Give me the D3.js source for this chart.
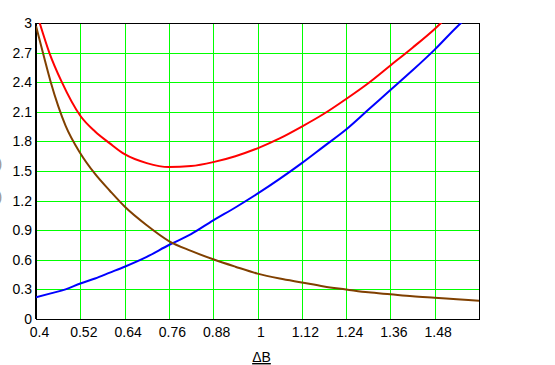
<!DOCTYPE html>
<html>
<head>
<meta charset="utf-8">
<script src="https://cdn.jsdelivr.net/npm/d3@7"></script>
<style>
  body { margin: 0; background: #fff; }
  svg { display: block; }
</style>
</head>
<body>
<div id="chart"></div>
<script>
// values
const xTicks = [0.4, 0.52, 0.64, 0.76, 0.88, 1, 1.12, 1.24, 1.36, 1.48]
const yTicks = [0, 0.3, 0.6, 0.9, 1.2, 1.5, 1.8, 2.1, 2.4, 2.7, 3]

const redB = [0.41, 0.436, 0.47, 0.52, 0.56, 0.6, 0.64, 0.7, 0.76, 0.82, 0.88, 0.94, 1, 1.06, 1.12, 1.18, 1.24, 1.3, 1.36, 1.42, 1.48, 1.5]
const redV = [3.0, 2.7, 2.4, 2.06, 1.9, 1.78, 1.67, 1.58, 1.54, 1.55, 1.59, 1.65, 1.73, 1.83, 1.95, 2.08, 2.23, 2.39, 2.57, 2.75, 2.94, 3.01]

const blueB = [0.4, 0.44, 0.48, 0.52, 0.56, 0.6, 0.64, 0.7, 0.76, 0.82, 0.88, 0.94, 1, 1.06, 1.12, 1.18, 1.24, 1.3, 1.36, 1.42, 1.48, 1.54, 1.56]
const blueV = [0.22, 0.26, 0.3, 0.36, 0.41, 0.47, 0.53, 0.63, 0.75, 0.86, 1.0, 1.13, 1.27, 1.42, 1.58, 1.75, 1.92, 2.12, 2.32, 2.52, 2.73, 2.96, 3.03]

const brownB = [0.4, 0.42, 0.44, 0.46, 0.48, 0.52, 0.56, 0.6, 0.64, 0.7, 0.76, 0.82, 0.88, 0.94, 1, 1.06, 1.12, 1.18, 1.24, 1.3, 1.36, 1.42, 1.48, 1.54, 1.6]
const brownV = [2.97, 2.68, 2.4, 2.16, 1.96, 1.68, 1.47, 1.3, 1.14, 0.95, 0.79, 0.69, 0.605, 0.53, 0.46, 0.41, 0.37, 0.33, 0.3, 0.27, 0.25, 0.23, 0.215, 0.2, 0.185]

const width = 555
const height = 365
const margin = { top: 23, right: 76, bottom: 46, left: 36 }
const innerW = width - margin.left - margin.right
const innerH = height - margin.top - margin.bottom

const svg = d3.select('#chart')
  .append('svg')
  .attr('width', width)
  .attr('height', height)
  .style('font-family', 'Arial, "Liberation Sans", sans-serif')

const g = svg.append('g')
  .attr('transform', `translate(${margin.left}, ${margin.top})`)

const x = d3.scaleLinear().domain([0.4, 1.6]).range([0, innerW])
const y = d3.scaleLinear().domain([0, 3]).range([innerH, 0])

g.append('clipPath')
  .attr('id', 'plot-clip')
  .append('rect')
  .attr('width', innerW)
  .attr('height', innerH)

// green grid
g.append('g')
  .attr('transform', `translate(0, ${innerH})`)
  .call(d3.axisBottom(x).tickValues(xTicks).tickSize(-innerH).tickFormat(''))
  .call(ax => ax.select('.domain').remove())
  .selectAll('line')
  .attr('stroke', '#00ff00')
  .attr('shape-rendering', 'crispEdges')

g.append('g')
  .call(d3.axisLeft(y).tickValues(yTicks).tickSize(-innerW).tickFormat(''))
  .call(ax => ax.select('.domain').remove())
  .selectAll('line')
  .attr('stroke', '#00ff00')
  .attr('shape-rendering', 'crispEdges')

// tick labels
g.append('g')
  .attr('transform', `translate(0, ${innerH})`)
  .call(d3.axisBottom(x).tickValues(xTicks).tickSize(0).tickPadding(8).tickFormat(d3.format('~g')))
  .call(ax => ax.select('.domain').remove())
  .selectAll('text')
  .attr('dx', 3)
  .attr('font-size', 14)
  .attr('font-family', 'Arial, "Liberation Sans", sans-serif')
  .attr('fill', '#000')

g.append('g')
  .call(d3.axisLeft(y).tickValues(yTicks).tickSize(0).tickPadding(4).tickFormat(d3.format('~g')))
  .call(ax => ax.select('.domain').remove())
  .selectAll('text')
  .attr('font-size', 14)
  .attr('font-family', 'Arial, "Liberation Sans", sans-serif')
  .attr('fill', '#000')

// frame
g.append('rect')
  .attr('width', innerW)
  .attr('height', innerH)
  .attr('fill', 'none')
  .attr('stroke', '#000')
  .attr('shape-rendering', 'crispEdges')

g.append('line')
  .attr('x1', 0).attr('x2', 0)
  .attr('y1', 0).attr('y2', innerH)
  .attr('stroke', '#000')
  .attr('stroke-width', 2)
  .attr('shape-rendering', 'crispEdges')

const series = [
  { b: redB, v: redV, color: '#ff0000' },
  { b: blueB, v: blueV, color: '#0000ff' },
  { b: brownB, v: brownV, color: '#804000' }
]

const line = d3.line()
  .x(d => x(d[0]))
  .y(d => y(d[1]))
  .curve(d3.curveMonotoneX)

g.append('g')
  .attr('clip-path', 'url(#plot-clip)')
  .selectAll('path')
  .data(series)
  .join('path')
  .attr('d', s => line(d3.zip(s.b, s.v)))
  .attr('fill', 'none')
  .attr('stroke', s => s.color)
  .attr('stroke-width', 2)
  .attr('stroke-linejoin', 'round')

// axis title
svg.append('text')
  .attr('x', margin.left + x(1) + 4)
  .attr('y', 362)
  .attr('text-anchor', 'middle')
  .attr('font-size', 14)
  .attr('text-decoration', 'underline')
  .text('ΔB')

// cut-off y label fragments at the left edge
svg.selectAll('text.ylab')
  .data([169, 202])
  .join('text')
  .attr('class', 'ylab')
  .attr('x', -3)
  .attr('y', d => d)
  .attr('font-size', 16)
  .attr('fill', '#999')
  .text(')')
</script>
</body>
</html>
